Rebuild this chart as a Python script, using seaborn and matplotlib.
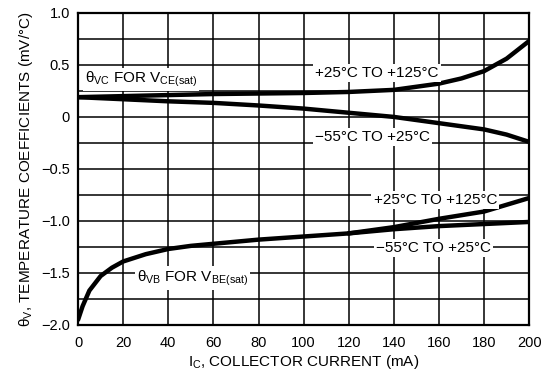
import numpy as np
import pandas as pd
import matplotlib
matplotlib.use("Agg")
import matplotlib.pyplot as plt
from matplotlib.ticker import MultipleLocator, FixedLocator
import seaborn as sns

# Collector current (mA) and temperature coefficients (mV/°C)
ic_vce = [0, 20, 40, 60, 80, 100, 120, 140, 160, 170, 180, 190, 200]
vce_hot = [0.19, 0.20, 0.21, 0.22, 0.225, 0.23, 0.24, 0.26, 0.32, 0.37, 0.44, 0.56, 0.73]
vce_cold = [0.19, 0.17, 0.15, 0.135, 0.11, 0.08, 0.04, 0.0, -0.06, -0.09, -0.12, -0.17, -0.24]

ic_vbe = [0, 2, 5, 10, 15, 20, 30, 40, 50, 60, 80, 100, 120]
vbe_common = [-1.95, -1.82, -1.67, -1.53, -1.45, -1.39, -1.32, -1.27, -1.24, -1.22, -1.18, -1.15, -1.12]
ic_vbe_split = [120, 140, 160, 180, 200]
vbe_hot = [-1.12, -1.06, -0.98, -0.91, -0.78]
vbe_cold = [-1.12, -1.08, -1.05, -1.03, -1.01]

x_ticks = [0, 20, 40, 60, 80, 100, 120, 140, 160, 180, 200]
y_ticks = [1.0, 0.5, 0.0, -0.5, -1.0, -1.5, -2.0]
y_tick_labels = ["1.0", "0.5", "0", "\u22120.5", "\u22121.0", "\u22121.5", "\u22122.0"]

sns.set_style("white")
plt.rcParams["font.family"] = ["Liberation Sans", "DejaVu Sans"]
plt.rcParams["mathtext.default"] = "regular"
plt.rcParams["text.color"] = "black"
plt.rcParams["axes.labelcolor"] = "black"
plt.rcParams["xtick.color"] = "black"
plt.rcParams["ytick.color"] = "black"

frames = []
for name, xs, ys in [
    ("vce_hot", ic_vce, vce_hot),
    ("vce_cold", ic_vce, vce_cold),
    ("vbe_common", ic_vbe, vbe_common),
    ("vbe_hot", ic_vbe_split, vbe_hot),
    ("vbe_cold", ic_vbe_split, vbe_cold),
]:
    frames.append(pd.DataFrame({"ic": xs, "theta": ys, "curve": name}))
df = pd.concat(frames, ignore_index=True)

fig = plt.figure(figsize=(5.5, 3.8), dpi=100)
ax = fig.add_axes([0.142, 0.145, 0.82, 0.821])

sns.lineplot(data=df, x="ic", y="theta", units="curve", estimator=None,
             color="black", linewidth=3.2, sort=False, ax=ax, legend=False)

ax.set_xlim(0, 200)
ax.set_ylim(-2.0, 1.0)
ax.xaxis.set_major_locator(FixedLocator(x_ticks))
ax.yaxis.set_major_locator(FixedLocator(y_ticks))
ax.yaxis.set_minor_locator(MultipleLocator(0.25))
ax.set_yticklabels(y_tick_labels)
ax.grid(True, which="both", color="black", linewidth=1.1)
ax.tick_params(axis="both", which="both", length=0, labelsize=10.5, labelcolor="black")
ax.tick_params(axis="x", pad=8)
ax.tick_params(axis="y", pad=6)
for s in ax.spines.values():
    s.set_linewidth(1.6)
    s.set_color("black")

ax.set_xlabel("I$_C$, COLLECTOR CURRENT (mA)", fontsize=11, labelpad=2, color="black")
ax.set_ylabel("\u03b8$_V$, TEMPERATURE COEFFICIENTS (mV/\u00b0C)", fontsize=11, labelpad=4, color="black")

box = dict(facecolor="white", edgecolor="none", pad=1.5)
fs = 11
ax.text(3, 0.36, "\u03b8$_{VC}$ FOR V$_{CE(sat)}$", fontsize=fs, ha="left", va="center", bbox=box)
ax.text(105, 0.42, "+25\u00b0C TO +125\u00b0C", fontsize=fs, ha="left", va="center", bbox=box)
ax.text(105, -0.19, "\u221255\u00b0C TO +25\u00b0C", fontsize=fs, ha="left", va="center", bbox=box)
ax.text(131, -0.80, "+25\u00b0C TO +125\u00b0C", fontsize=fs, ha="left", va="center", bbox=box)
ax.text(132, -1.26, "\u221255\u00b0C TO +25\u00b0C", fontsize=fs, ha="left", va="center", bbox=box)
ax.text(26, -1.55, "\u03b8$_{VB}$ FOR V$_{BE(sat)}$", fontsize=fs, ha="left", va="center", bbox=box)

fig.savefig("out.png", dpi=100)
